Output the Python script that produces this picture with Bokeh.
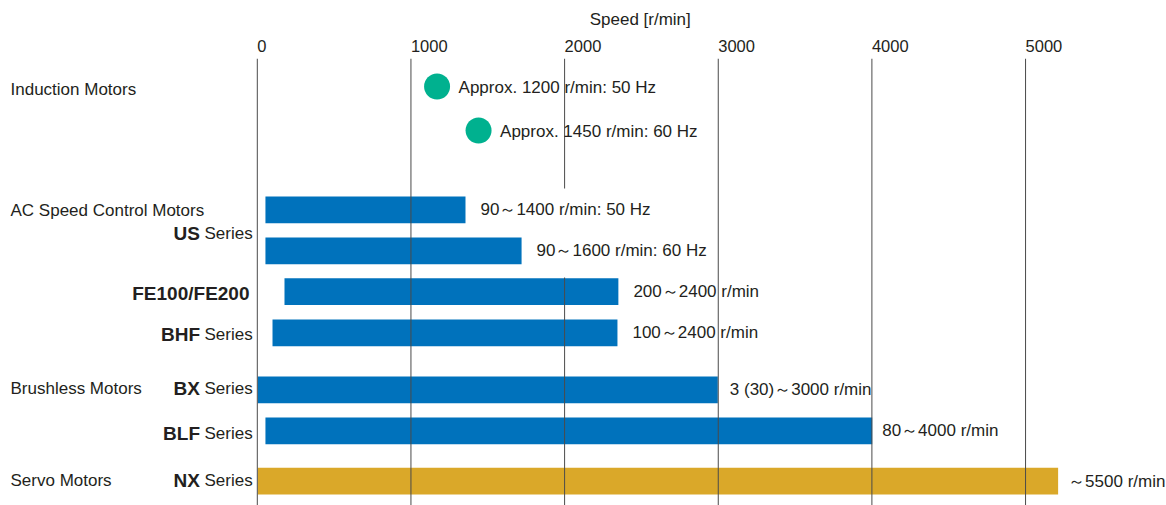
from bokeh.plotting import figure
from bokeh.models import ColumnDataSource, Range1d, FixedTicker
from bokeh.core.properties import value
from bokeh.embed import file_html
from bokeh.resources import INLINE

# ---------------- data ----------------
speed_ticks = [0, 1000, 2000, 3000, 4000, 5000]
axis_title = "Speed [r/min]"

induction_speed = [1170, 1440]
induction_label = ["Approx. 1200 r/min: 50 Hz", "Approx. 1450 r/min: 60 Hz"]

series_start = [53, 53, 177, 99, 3, 53, 3]
series_end = [1355, 1720, 2350, 2344, 2997, 4002, 5212]
series_label = ["90～1400 r/min: 50 Hz", "90～1600 r/min: 60 Hz", "200～2400 r/min",
                "100～2400 r/min", "3 (30)～3000 r/min", "80～4000 r/min", "～5500 r/min"]
series_kind = ["speed", "speed", "speed", "speed", "speed", "speed", "servo"]

group_names = ["Induction Motors", "AC Speed Control Motors", "Brushless Motors", "Servo Motors"]
series_names = ["US", "FE100/FE200", "BHF", "BX", "BLF", "NX"]
series_suffix = ["Series", "", "Series", "Series", "Series", "Series"]

# ---------------- layout / style ----------------
W, H = 1166, 505
FRAME_TOP = 58
FRAME_H = H - FRAME_TOP
ZERO_PX = 256.8          # canvas x of speed 0
PX_PER_UNIT = 0.15365    # pixels per r/min
induction_rows = [28, 72]
bar_rows = [151.3, 192.3, 233.2, 274.3, 331.3, 372.3, 422.7]
label_gap = [15, 15, 15, 15, 12, 10, 10]
group_rows = [30.3, 151, 329, 421.3]
name_rows = [173.7, 233.7, 275, 329, 373.5, 421.3]
grid_gaps = {2000: (130, 219)}
BAR_H = 26.7
TITLE_SHIFT = 12         # figure spaces used to move the axis title right

FONT = "Liberation Sans"
TEXT = "#231F20"
GRID = "#4a4a4a"
BLUE = "#0072BC"
GOLD = "#DAA829"
GREEN = "#00B18F"
kind_color = {"speed": BLUE, "servo": GOLD}
FS = "17px"

p = figure(width=W, height=H, output_backend="svg", toolbar_location=None,
           x_range=Range1d(-ZERO_PX / PX_PER_UNIT, (W - ZERO_PX) / PX_PER_UNIT),
           y_range=Range1d(FRAME_H, 0),
           x_axis_location="above", y_axis_location=None,
           min_border_left=0, min_border_right=0, min_border_bottom=0,
           min_border_top=FRAME_TOP, outline_line_color=None)
p.extra_x_ranges = {"px": Range1d(0, W)}
p.grid.visible = False

# top axis: tick labels start at their grid line (figure-space padding)
ax = p.xaxis[0]
ax.ticker = FixedTicker(ticks=speed_ticks)
ax.major_label_overrides = {t: "\u2007" * len(str(t)) + str(t) for t in speed_ticks}
ax.major_label_text_font = FONT
ax.major_label_text_font_size = "16.5px"
ax.major_label_text_color = TEXT
ax.major_label_standoff = 4
ax.axis_label = "\u2007" * TITLE_SHIFT + axis_title
ax.axis_label_text_font = FONT
ax.axis_label_text_font_size = "17px"
ax.axis_label_text_font_style = "normal"
ax.axis_label_text_color = TEXT
ax.axis_label_standoff = 5
ax.axis_line_color = None
ax.major_tick_line_color = None
ax.minor_tick_line_color = None
ax.major_tick_out = 0
ax.major_tick_in = 0

# bars
bars = ColumnDataSource(dict(
    y=bar_rows, left=series_start, right=series_end,
    color=[kind_color[k] for k in series_kind],
    label=series_label, gap=label_gap))
p.hbar(y="y", left="left", right="right", height=BAR_H, fill_color="color",
       line_color=None, source=bars)

# grid lines (drawn above bars)
gx, gy0, gy1 = [], [], []
for t in speed_ticks:
    if t in grid_gaps:
        a, b = grid_gaps[t]
        gx += [t, t]; gy0 += [0, b]; gy1 += [a, FRAME_H]
    else:
        gx.append(t); gy0.append(0); gy1.append(FRAME_H)
p.segment(x0=gx, y0=gy0, x1=gx, y1=gy1, line_color=GRID, line_width=1)

# induction motor points
p.scatter(x=induction_speed, y=induction_rows, size=26, fill_color=GREEN, line_color=None)
p.text(x=induction_speed, y=[r + 1 for r in induction_rows], text=induction_label,
       x_offset=21.5, text_baseline="middle", text_align="left",
       text_font=value(FONT), text_font_size=FS, text_color=TEXT)

# bar labels
p.text(x="right", y="y", text="label", x_offset="gap", source=bars,
       text_baseline="middle", text_align="left",
       text_font=value(FONT), text_font_size=FS, text_color=TEXT)

# left labels
p.text(x=[10] * len(group_names), y=[r + 1 for r in group_rows], text=group_names,
       x_range_name="px", text_baseline="middle", text_align="left",
       text_font=value(FONT), text_font_size=FS, text_color=TEXT)
name_x = [199.5 if s else 249 for s in series_suffix]
p.text(x=name_x, y=[r + 1 for r in name_rows], text=series_names,
       x_range_name="px", text_baseline="middle", text_align="right",
       text_font=value(FONT), text_font_style="bold", text_font_size="19px",
       text_color=TEXT)
suf_rows = [r + 1 for r, s in zip(name_rows, series_suffix) if s]
suf_text = [s for s in series_suffix if s]
p.text(x=[204] * len(suf_text), y=suf_rows, text=suf_text,
       x_range_name="px", text_baseline="middle", text_align="left",
       text_font=value(FONT), text_font_size=FS, text_color=TEXT)

open("out.html", "w").write(file_html(p, INLINE))
